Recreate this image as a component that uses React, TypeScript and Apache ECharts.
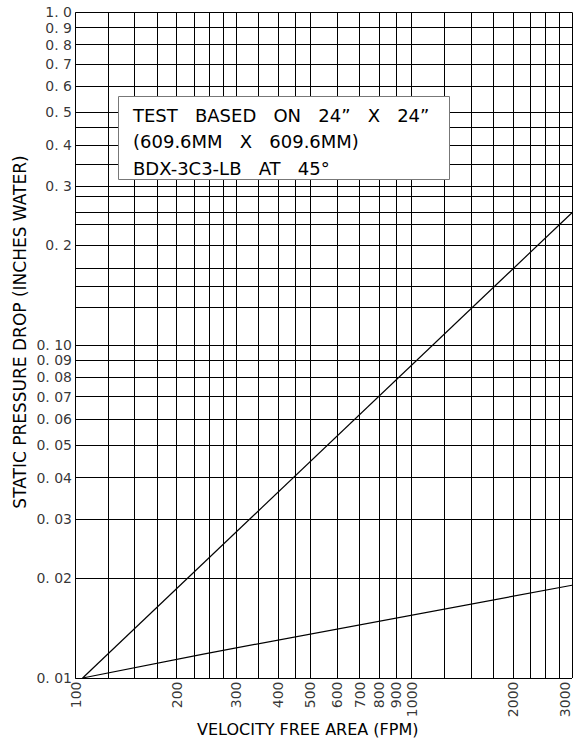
import React, { useEffect, useRef } from "react";
import * as echarts from "echarts";

const FONT = "DejaVu Sans";

// Grid lines (values)
const xGridValues = [100, 125, 150, 175, 200, 225, 250, 275, 300, 350, 400, 450, 500, 600, 700, 800, 900, 1000, 1250, 1500, 1750, 2000, 2250, 2500, 2750, 3000];
const yGridValues = [0.01, 0.0125, 0.015, 0.0175, 0.02, 0.0225, 0.025, 0.0275, 0.03, 0.035, 0.04, 0.045, 0.05, 0.06, 0.07, 0.08, 0.09, 0.1, 0.125, 0.15, 0.175, 0.2, 0.225, 0.25, 0.275, 0.3, 0.35, 0.4, 0.45, 0.5, 0.6, 0.7, 0.8, 0.9, 1.0];

// Tick labels
const xLabelValues = [100, 200, 300, 400, 500, 600, 700, 800, 900, 1000, 2000, 3000];
const yLabelValues = [1.0, 0.9, 0.8, 0.7, 0.6, 0.5, 0.4, 0.3, 0.2, 0.1, 0.09, 0.08, 0.07, 0.06, 0.05, 0.04, 0.03, 0.02, 0.01];
const yLabelTexts = ["1. 0", "0. 9", "0. 8", "0. 7", "0. 6", "0. 5", "0. 4", "0. 3", "0. 2", "0. 10", "0. 09", "0. 08", "0. 07", "0. 06", "0. 05", "0. 04", "0. 03", "0. 02", "0. 01"];

// Curves (velocity FPM, pressure drop in. water)
const line1X = [105, 3000];
const line1Y = [0.01, 0.25];
const line2X = [105, 240, 3000];
const line2Y = [0.01, 0.0118, 0.019];

const noteLines = ["TEST   BASED   ON   24\u201D   X   24\u201D", "(609.6MM   X   609.6MM)", "BDX-3C3-LB   AT   45\u00B0"];

const xTitle = "VELOCITY FREE AREA (FPM)";
const yTitle = "STATIC PRESSURE DROP (INCHES WATER)";

export default function App() {
  const ref = useRef<HTMLDivElement>(null);
  useEffect(() => {
    if (!ref.current) return;
    const chart = echarts.init(ref.current, undefined, { renderer: "svg" });
    const gridLineStyle = { color: "#000", width: 1, type: "solid" as const };
    const option: any = {
      animation: false,
      backgroundColor: "#fff",
      grid: { left: 75.5, right: 2, top: 12.3, bottom: 58.7 },
      xAxis: {
        type: "log",
        logBase: 10,
        min: 100,
        max: 3000,
        axisLine: { show: false },
        axisTick: { show: false },
        axisLabel: { show: false },
        splitLine: { show: false },
        name: xTitle,
        nameLocation: "middle",
        nameGap: 43,
        nameTextStyle: { fontFamily: FONT, fontSize: 16, color: "#000", padding: [0, 32, 0, 0] },
      },
      yAxis: {
        type: "log",
        logBase: 10,
        min: 0.01,
        max: 1,
        axisLine: { show: false },
        axisTick: { show: false },
        axisLabel: { show: false },
        splitLine: { show: false },
      },
      series: [
        {
          type: "line",
          name: "Line 1",
          data: line1X.map((x, i) => [x, line1Y[i]]),
          showSymbol: false,
          symbol: "none",
          lineStyle: { color: "#000", width: 1.2 },
          silent: true,
          z: 5,
          markLine: {
            silent: true,
            symbol: ["none", "none"],
            label: { show: false },
            lineStyle: gridLineStyle,
            emphasis: { disabled: true },
            data: [
              ...xGridValues.map((v) => ({ xAxis: v })),
              ...yGridValues.map((v) => ({ yAxis: v })),
            ],
          },
        },
        {
          type: "line",
          name: "Line 2",
          data: line2X.map((x, i) => [x, line2Y[i]]),
          showSymbol: false,
          symbol: "none",
          lineStyle: { color: "#000", width: 1.2 },
          silent: true,
          z: 5,
        },
        {
          type: "scatter",
          name: "xLabels",
          data: xLabelValues.map((v, i) =>
            i === xLabelValues.length - 1
              ? { value: [v, 0.01], label: { offset: [0, -7] } }
              : { value: [v, 0.01] }
          ),
          symbolSize: 1,
          itemStyle: { color: "transparent" },
          clip: false,
          silent: true,
          label: {
            show: true,
            position: "bottom",
            distance: 3,
            rotate: 90,
            align: "right",
            verticalAlign: "middle",
            fontFamily: FONT,
            fontSize: 14,
            color: "#000",
            formatter: (p: any) => String(p.value[0]),
          },
        },
        {
          type: "scatter",
          name: "yLabels",
          data: yLabelValues.map((v) => [100, v]),
          symbolSize: 1,
          itemStyle: { color: "transparent" },
          clip: false,
          silent: true,
          label: {
            show: true,
            position: "left",
            distance: 3,
            fontFamily: FONT,
            fontSize: 14,
            color: "#000",
            formatter: (p: any) => yLabelTexts[p.dataIndex],
          },
        },
      ],
      graphic: [
        {
          type: "text",
          z: 50,
          x: 20,
          y: 332,
          rotation: Math.PI / 2,
          style: {
            text: yTitle,
            fontFamily: FONT,
            fontSize: 17,
            fill: "#000",
            align: "center",
            verticalAlign: "middle",
          },
        },
        {
          type: "rect",
          z: 100,
          shape: { x: 118.5, y: 96.5, width: 331, height: 83 },
          style: { fill: "#fff", stroke: "#777", lineWidth: 1 },
        },
        ...noteLines.map((t, i) => ({
          type: "text",
          z: 101,
          x: 133,
          y: 115 + i * 26.7,
          style: {
            text: t,
            fontFamily: FONT,
            fontSize: 18,
            fill: "#000",
            verticalAlign: "middle",
            align: "left",
          },
        })),
      ],
    };
    chart.setOption(option);
    return () => chart.dispose();
  }, []);
  return (
    <div
      ref={ref}
      style={{ position: "fixed", left: 0, top: 0, width: 574, height: 742, background: "#fff" }}
    />
  );
}
